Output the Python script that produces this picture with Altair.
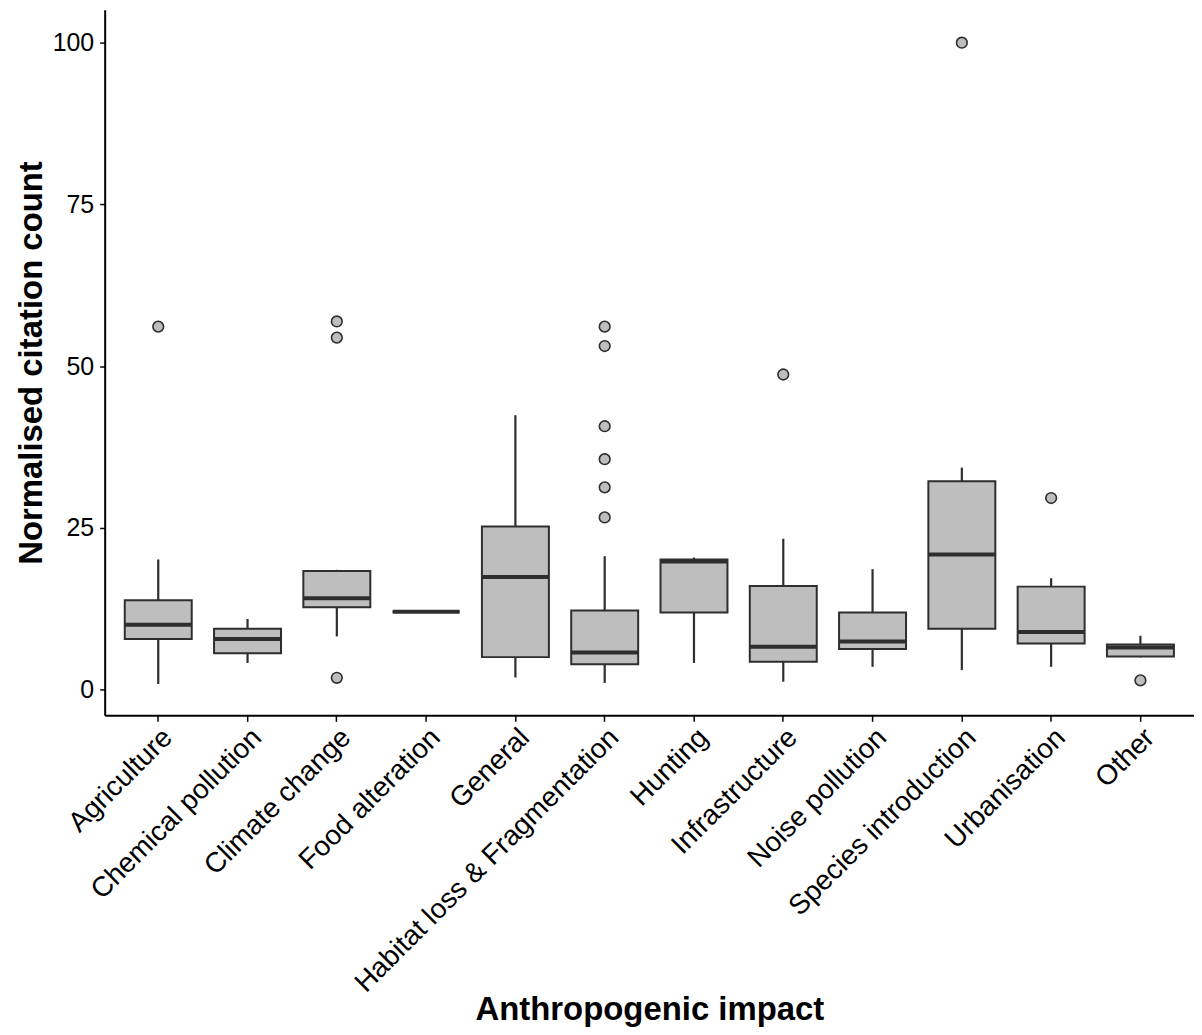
import altair as alt
import pandas as pd

categories = ["Agriculture", "Chemical pollution", "Climate change", "Food alteration",
              "General", "Habitat loss & Fragmentation", "Hunting", "Infrastructure",
              "Noise pollution", "Species introduction", "Urbanisation", "Other"]
whisker_low = [0.85, 4.1, 8.2, 12.0, 1.85, 1.0, 4.1, 1.2, 3.5, 3.0, 3.5, 4.96]
q1 = [7.8, 5.6, 12.7, 12.0, 5.0, 3.9, 11.9, 4.3, 6.25, 9.4, 7.1, 5.1]
median = [10.0, 7.8, 14.1, 12.0, 17.4, 5.7, 19.8, 6.6, 7.4, 20.85, 8.9, 6.5]
q3 = [13.8, 9.4, 18.3, 12.0, 25.2, 12.2, 20.1, 16.0, 11.9, 32.2, 15.9, 6.95]
whisker_high = [20.1, 10.9, 18.5, 12.0, 42.4, 20.6, 20.4, 23.3, 18.6, 34.3, 17.2, 8.3]

outlier_cat = ["Agriculture", "Climate change", "Climate change", "Climate change",
               "Habitat loss & Fragmentation", "Habitat loss & Fragmentation",
               "Habitat loss & Fragmentation", "Habitat loss & Fragmentation",
               "Habitat loss & Fragmentation", "Habitat loss & Fragmentation",
               "Infrastructure", "Species introduction", "Urbanisation", "Other"]
outlier_val = [56.1, 56.9, 54.4, 1.8, 56.1, 53.1, 40.7, 35.6, 31.25, 26.6, 48.7, 100.0, 29.6, 1.4]

stats = pd.DataFrame({"cat": categories, "lo": whisker_low, "q1": q1, "med": median,
                      "q3": q3, "hi": whisker_high})
outl = pd.DataFrame({"cat": outlier_cat, "v": outlier_val})

FONT = "Liberation Sans"
DARK = "#2e2e2e"
FILL = "#BEBEBE"

x_axis = alt.Axis(title="Anthropogenic impact", labelAngle=-45, labelAlign="right",
                  labelBaseline="top", labelFontSize=28, labelColor="black", labelFont=FONT,
                  labelPadding=2, labelLimit=0, tickSize=6, tickColor="black", tickWidth=1.5,
                  domainColor="black", domainWidth=2, titleFontSize=33, titleFont=FONT,
                  titleFontWeight="bold", titleColor="black", titleX=546.5, titleY=305,
                  titleAlign="center", titleBaseline="alphabetic", labelOverlap=False)
y_axis = alt.Axis(title="Normalised citation count", values=[0, 25, 50, 75, 100],
                  labelFontSize=25, labelColor="black", labelFont=FONT, labelPadding=6,
                  tickSize=5, tickColor="black", tickWidth=1.5, domainColor="black",
                  domainWidth=2, grid=False, titleFontSize=33, titleFont=FONT,
                  titleFontWeight="bold", titleColor="black", titleAngle=270,
                  titleX=-63, titleY=354, titleAlign="center", titleBaseline="alphabetic")

xs = alt.Scale(domain=categories, paddingInner=0, paddingOuter=0.1)
ys = alt.Scale(domain=[-4.0, 105.1], nice=False, zero=False)

X = alt.X("cat:N", sort=categories, scale=xs, axis=x_axis)

whiskers = alt.Chart(stats).mark_rule(color=DARK, strokeWidth=2.2, opacity=1).encode(
    x=X, y=alt.Y("lo:Q", scale=ys, axis=y_axis), y2="hi:Q")
boxes = alt.Chart(stats).mark_bar(width=alt.RelativeBandSize(0.75), fill=FILL,
                                  stroke=DARK, strokeWidth=2, opacity=1).encode(
    x=X, y=alt.Y("q1:Q", scale=ys, axis=y_axis), y2="q3:Q")
meds = alt.Chart(stats).mark_tick(size=67, thickness=4, color=DARK, opacity=1).encode(
    x=X, y=alt.Y("med:Q", scale=ys, axis=y_axis))
pts = alt.Chart(outl).mark_point(shape="circle", filled=True, size=115, fill=FILL,
                                 stroke=DARK, strokeWidth=1.6, opacity=1).encode(
    x=X, y=alt.Y("v:Q", scale=ys, axis=y_axis))

chart = alt.layer(whiskers, boxes, meds, pts).properties(
    width=1093, height=708,
    autosize=alt.AutoSizeParams(type="none"),
    padding={"left": 97, "top": 0, "right": 0, "bottom": 311},
).configure(background="white").configure_view(stroke=None)

chart.save("out.html", embed_options={"renderer": "svg", "actions": False})
